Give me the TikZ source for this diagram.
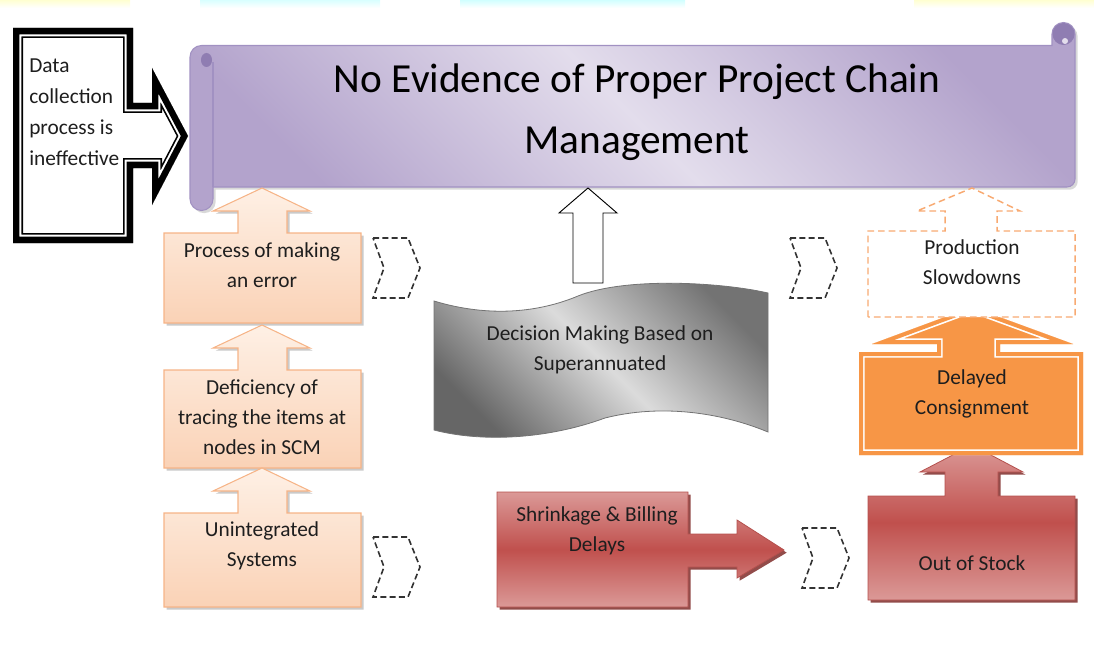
\documentclass[tikz,border=0pt]{standalone}
\usepackage{fontspec}
\setmainfont{Carlito}
\usepackage{tikz}
\usetikzlibrary{shadows}

\definecolor{scrolllight}{HTML}{E3DDEC}
\definecolor{scrolldark}{HTML}{B3A3CC}
\definecolor{scrollline}{HTML}{A191C2}
\definecolor{scrollcurl}{HTML}{8F7DB2}
\definecolor{peachtop}{HTML}{FEF0E5}
\definecolor{peachbot}{HTML}{FAD2B6}
\definecolor{peachline}{HTML}{F6B487}
\definecolor{redlight}{HTML}{DB9997}
\definecolor{redmid}{HTML}{C0504D}
\definecolor{redline}{HTML}{B4504D}
\definecolor{orangefill}{HTML}{F79646}
\definecolor{orangedash}{HTML}{F8AA72}
\definecolor{txt}{HTML}{1E1E1E}

\begin{document}
\begin{tikzpicture}[x=0.75pt,y=-0.75pt,
  lbl/.style={font=\fontsize{16}{22.5}\selectfont, text=txt, align=center, inner sep=0pt},
  peachbox/.style={top color=peachtop, bottom color=peachbot, draw=peachline, line width=0.8pt,
    drop shadow={shadow xshift=2pt, shadow yshift=-2pt, fill=black!35, opacity=0.6}},
  redbox/.style={top color=redlight, bottom color=redlight, middle color=redmid, draw=redline, line width=0.6pt,
    drop shadow={shadow xshift=2pt, shadow yshift=-2pt, fill=redmid!70!black, opacity=0.9}},
  chev/.style={draw=black!80, line width=1.2pt, dash pattern=on 4.5pt off 2.5pt}]
\useasboundingbox (0,0) rectangle (1094,649);

% pale strip on top
\shade[top color=yellow!18, bottom color=white] (0,0) rectangle (130,8);
\shade[top color=cyan!15, bottom color=white] (200,0) rectangle (380,8);
\shade[top color=cyan!18, bottom color=white] (460,0) rectangle (685,8);
\shade[top color=yellow!18, bottom color=white] (914,0) rectangle (1094,8);

% scroll
\draw[scrollline, line width=0.8pt, top color=scrolldark, bottom color=scrolldark, middle color=scrolllight, shading angle=-45,
  drop shadow={shadow xshift=2pt, shadow yshift=-2pt, fill=black!30, opacity=0.5}]
  (190,57) arc (180:270:11.5) -- (1052,45.5) -- (1052,34) arc (180:360:11.5) -- (1075,179) arc (0:90:8)
  -- (213,187) -- (213,199) arc (0:180:11.5) -- cycle;
\draw[scrollline, line width=0.8pt] (213,62) -- (213,187);
\fill[scrollcurl] (206.5,60) ellipse (5.5 and 7);
\fill[scrollcurl] (1063.5,34) circle (11);
\fill[scrolllight] (1065,41) circle (3);
\node[font=\fontsize{31}{45.75}\selectfont, text=black, align=center, inner sep=0pt] (title) at (637,112)
  {No Evidence of Proper Project Chain\\Management};

% data collection callout
\def\datapath{(13,28) -- (133,28) -- (133,103) -- (152,103) -- (152,68) -- (188,136) -- (152,205) -- (152,168) -- (133,168) -- (133,243) -- (13,243) -- cycle}
\fill[white] \datapath;
\begin{scope}
\clip \datapath;
\draw[line width=15pt, line join=miter] \datapath;
\draw[white, line width=12.5pt, line join=miter] \datapath;
\draw[line width=9.5pt, line join=miter] \datapath;
\end{scope}
\node[lbl, align=left, anchor=west, font=\fontsize{16}{23.25}\selectfont] (data) at (29,112)
  {Data\\collection\\process is\\ineffective};

% peach callouts on the left
\foreach \t/\b in {233/323, 370/468, 513/607}{
  \draw[peachbox] (164,\b) -- (164,\t) -- (238,\t) -- (238,\t-22) -- (213,\t-22) -- (262,\t-45)
    -- (310,\t-22) -- (287,\t-22) -- (287,\t) -- (361,\t) -- (361,\b) -- cycle;
}
\node[lbl] (error) at (262,265) {Process of making\\an error};
\node[lbl] (tracing) at (262,417) {Deficiency of\\tracing the items at\\nodes in SCM};
\node[lbl] (unint) at (262,546) {Unintegrated\\Systems};

% chevrons
\foreach \cx/\cy in {373/268, 373/567, 790/268, 802/558}{
  \draw[chev] (\cx,\cy-30) -- (\cx+35,\cy-30) -- (\cx+47,\cy) -- (\cx+35,\cy+30) -- (\cx,\cy+30) -- (\cx+11,\cy) -- cycle;
}

% decision wave
\draw[black!55, line width=0.6pt, top color=black!55, bottom color=black!60, middle color=black!14, shading angle=-45]
  (434,301) .. controls (490,318) and (540,312) .. (578,296) .. controls (625,277) and (720,282) .. (768,293)
  -- (768,432) .. controls (720,412) and (660,404) .. (605,418) .. controls (545,440) and (480,442) .. (434,430) -- cycle;
\node[lbl] (decision) at (600,350) {Decision Making Based on\\Superannuated};

% white arrow to the title
\draw[line width=0.7pt, fill=white] (573,283) -- (573,213) -- (559,213) -- (588,188) -- (617,213) -- (603,213) -- (603,283) -- cycle;

% shrinkage arrow
\draw[redbox] (497,492) -- (688,492) -- (688,534) -- (737,534) -- (737,520) -- (784,550) -- (737,578) -- (737,567)
  -- (688,567) -- (688,607) -- (497,607) -- cycle;
\node[lbl] (shrink) at (597,531) {Shrinkage \& Billing\\Delays};

% out of stock
\draw[redbox] (868,600) -- (868,496) -- (945,496) -- (945,472) -- (920,472) -- (972,445) -- (1023,472) -- (998,472)
  -- (998,496) -- (1075,496) -- (1075,600) -- cycle;
\node[lbl] (stock) at (972,563) {Out of Stock};

% delayed consignment
\def\delayedpath{(859,455) -- (859,352) -- (937,352) -- (937,344) -- (872,344) -- (972,307) -- (1073,344) -- (1000,344) -- (1000,352) -- (1083,352) -- (1083,455) -- cycle}
\fill[orangefill] \delayedpath;
\begin{scope}
\clip \delayedpath;
\draw[white, line width=8.5pt, line join=miter] \delayedpath;
\draw[orangefill, line width=6pt, line join=miter] \delayedpath;
\end{scope}
\node[lbl] (delayed) at (972,394) {Delayed\\Consignment};

% production slowdowns
\draw[orangedash, line width=1.1pt, dash pattern=on 5pt off 3pt, fill=white]
  (868,317) -- (868,231) -- (945,231) -- (945,211) -- (917,211) -- (972,188) -- (1020,211) -- (997,211)
  -- (997,231) -- (1075,231) -- (1075,317) -- cycle;
\node[lbl] (prod) at (972,262) {Production\\Slowdowns};
\end{tikzpicture}
\end{document}
